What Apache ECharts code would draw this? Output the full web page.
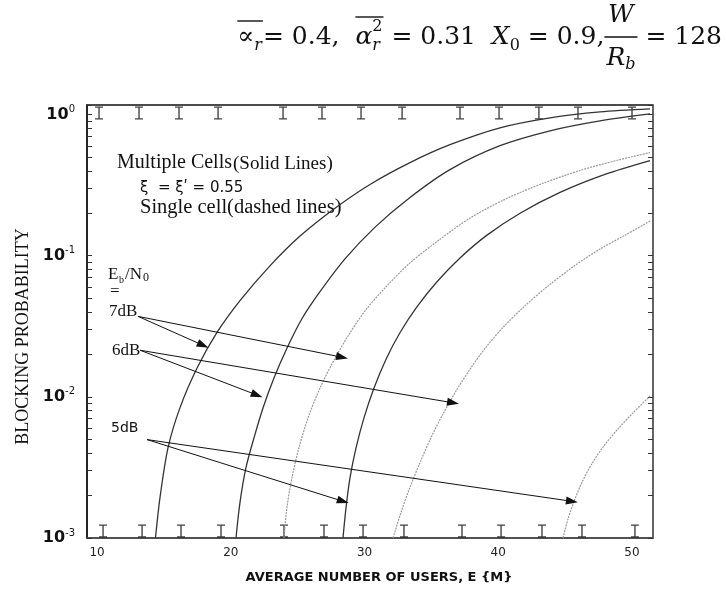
<!DOCTYPE html>
<html>
<head>
<meta charset="utf-8">
<script src="https://cdn.jsdelivr.net/npm/echarts@6/dist/echarts.min.js"></script>
<style>
html, body { margin: 0; padding: 0; background: #fff; }
#chart { width: 726px; height: 589px; }
</style>
</head>
<body>
<div id="chart"></div>
<script>
// values: E = average number of users, P = blocking probability
// multiple cells (solid)
const e7Multi = [14.37, 14.71, 15.31, 16.20, 17.48, 18.97, 20.69, 22.93, 25.18, 27.79, 30.41, 33.40, 36.39, 40.13, 43.87, 47.61, 51.35];
const p7Multi = [0.001, 0.00194, 0.00437, 0.00836, 0.0160, 0.0286, 0.0481, 0.0848, 0.1378, 0.217, 0.320, 0.457, 0.612, 0.806, 0.948, 1.045, 1.097];
const e6Multi = [20.39, 20.69, 21.14, 21.74, 22.41, 23.23, 24.20, 25.33, 26.67, 28.54, 30.79, 33.40, 36.39, 40.13, 43.87, 47.61, 51.35];
const p6Multi = [0.001, 0.00179, 0.00316, 0.00514, 0.00835, 0.0136, 0.0221, 0.0359, 0.0556, 0.0950, 0.1595, 0.259, 0.408, 0.602, 0.768, 0.903, 1.011];
const e5Multi = [28.39, 28.62, 28.92, 29.37, 29.96, 30.71, 31.61, 32.66, 33.93, 35.42, 37.14, 39.16, 41.63, 44.62, 47.98, 51.35];
const p5Multi = [0.001, 0.00165, 0.00269, 0.00437, 0.00710, 0.01155, 0.0185, 0.0286, 0.0436, 0.0654, 0.0965, 0.140, 0.200, 0.281, 0.377, 0.472];
// single cell (dashed)
const e7Single = [23.98, 24.20, 24.58, 25.10, 25.78, 26.67, 27.72, 28.84, 30.12, 31.61, 33.40, 35.65, 37.89, 40.50, 43.12, 46.11, 49.10, 51.35];
const p7Single = [0.001, 0.00165, 0.00269, 0.00437, 0.00710, 0.01155, 0.0182, 0.0277, 0.0416, 0.0603, 0.0890, 0.131, 0.185, 0.251, 0.320, 0.402, 0.480, 0.538];
const e6Single = [32.13, 32.73, 33.40, 34.15, 34.97, 35.87, 36.84, 37.89, 39.08, 40.43, 41.93, 43.65, 45.59, 47.61, 49.48, 51.35];
const p6Single = [0.001, 0.00152, 0.00229, 0.00343, 0.00514, 0.00758, 0.0110, 0.0157, 0.0225, 0.0316, 0.0436, 0.0603, 0.0834, 0.1116, 0.140, 0.176];
const e5Single = [44.84, 45.21, 45.67, 46.26, 47.01, 47.91, 48.96, 50.08, 51.35];
const p5Single = [0.001, 0.00136, 0.00182, 0.00248, 0.00337, 0.00451, 0.00594, 0.00770, 0.01015];

// the little "I" marks along the top and bottom edges
const topMarkE = [10.15, 13.14, 16.13, 19.05, 23.91, 26.82, 29.74, 32.81, 37.14, 40.06, 43.04, 45.96, 50.00];
const bottomMarkE = [10.45, 13.37, 16.28, 19.27, 23.98, 26.97, 29.89, 32.95, 37.29, 40.21, 43.27, 46.26, 50.22];

// Eb/N0 arrows (from label to curve)
const arrowStartE = [13.06, 13.06, 13.22, 13.22, 13.74, 13.74];
const arrowStartP = [0.0372, 0.0372, 0.0214, 0.0214, 0.00498, 0.00498];
const arrowEndE = [17.93, 28.32, 21.96, 36.62, 28.39, 45.51];
const arrowEndP = [0.0232, 0.0191, 0.0103, 0.00908, 0.00182, 0.00182];

const xTicks = [10, 20, 30, 40, 50];

const X_MIN = 9.25, X_MAX = 51.57;
const Y_MIN = 0.001, Y_MAX = 1.17;

function zip(xs, ys) {
    return xs.map((x, i) => [x, ys[i]])
}

function curve(name, xs, ys, dashed) {
    return {
        name: name,
        type: 'line',
        data: zip(xs, ys),
        smooth: 0.3,
        showSymbol: false,
        silent: true,
        lineStyle: dashed
            ? { color: '#9a9a9a', width: 1.2, type: [2, 1] }
            : { color: '#333', width: 1.3 }
    }
}

const serif = 'Liberation Serif';
const sans = 'DejaVu Sans';

function yLabel(v) {
    const exp = Math.round(Math.log10(v));
    if (Math.abs(Math.log10(v) - exp) > 1e-6) return '';
    return '{b|10}{s|' + exp + '}';
}

// formula above the chart, laid out piece by piece, right edge at 722
const ctx = document.createElement('canvas').getContext('2d');
function textWidth(t, font) {
    ctx.font = font;
    return ctx.measureText(t).width;
}
const mf = 'DejaVu Serif';
const big = '25px ' + mf, bigI = 'italic 25px ' + mf;
const small = '16px ' + mf, smallI = 'italic 16px ' + mf;
const MID = 37;
const formula = [];
let cx = 0;
function put(text, font, x, y) {
    formula.push({ type: 'text', silent: true, style: { x: x, y: y, text: text, font: font, fill: '#111', textVerticalAlign: 'middle', verticalAlign: 'middle' } });
    return textWidth(text, font);
}
function hline(x1, x2, y) {
    formula.push({ type: 'line', silent: true, shape: { x1: x1, y1: y, x2: x2, y2: y }, style: { stroke: '#111', lineWidth: 1.4 } });
}
let ox = cx;
cx += put('\u221D', big, cx, MID);
cx += put('r', smallI, cx, MID + 9) + 1;
hline(ox, cx, 21);
cx += put('= 0.4,', big, cx, MID);
cx += textWidth('  ', big);
ox = cx;
cx += put('\u03B1', bigI, cx, MID);
cx += Math.max(put('2', small, cx, MID - 10), put('r', smallI, cx, MID + 9)) + 1;
hline(ox, cx, 17);
cx += put(' = 0.31', big, cx, MID);
cx += textWidth('  ', big);
cx += put('X', bigI, cx, MID);
cx += put('0', small, cx, MID + 9);
cx += put(' = 0.9,', big, cx, MID);
const wW = textWidth('W', bigI), wR = textWidth('R', bigI) + textWidth('b', smallI);
const fw = Math.max(wW, wR) + 4;
put('W', bigI, cx + (fw - wW) / 2, MID - 22);
put('R', bigI, cx + (fw - wR) / 2, MID + 21);
put('b', smallI, cx + (fw - wR) / 2 + textWidth('R', bigI), MID + 28);
hline(cx, cx + fw, MID);
cx += fw;
cx += put(' = 128', big, cx, MID);
const shift = 722 - cx;
formula.forEach(el => {
    if (el.type === 'text') el.style.x += shift;
    else { el.shape.x1 += shift; el.shape.x2 += shift; }
});

const logAxis = {
    type: 'log',
    logBase: 10,
    min: Y_MIN,
    max: Y_MAX,
    splitLine: { show: false },
    axisLine: { show: true, lineStyle: { color: '#111', width: 1.5 } },
    axisTick: { show: true, inside: true, length: 5, lineStyle: { color: '#333' } },
    minorTick: { show: true, splitNumber: 9, length: 5, lineStyle: { color: '#333' } }
};

const chart = echarts.init(document.getElementById('chart'));
chart.setOption({
    backgroundColor: '#fff',
    animation: false,
    grid: { left: 87, right: 73, top: 105, bottom: 48, show: true, borderColor: '#111', borderWidth: 1.3 },
    xAxis: {
        type: 'value',
        min: X_MIN,
        max: X_MAX,
        name: 'AVERAGE NUMBER OF USERS, E {M}',
        nameLocation: 'middle',
        nameGap: 33,
        nameTextStyle: { fontFamily: sans, fontWeight: 'bold', fontSize: 13, color: '#111', padding: [0, 0, 0, 18] },
        splitLine: { show: false },
        axisLine: { lineStyle: { color: '#555', width: 1.5 } },
        axisTick: { show: false },
        axisLabel: { customValues: xTicks, color: '#222', fontFamily: sans, fontSize: 12, margin: 9 }
    },
    yAxis: [
        Object.assign({}, logAxis, {
            position: 'left',
            name: 'BLOCKING PROBABILITY',
            nameLocation: 'middle',
            nameGap: 53,
            nameTextStyle: { fontFamily: serif, fontSize: 18, color: '#111', padding: [0, 30, 0, 0] },
            axisLabel: {
                showMaxLabel: false,
                margin: 12,
                formatter: yLabel,
                rich: {
                    b: { fontFamily: sans, fontWeight: 'bold', fontSize: 16, color: '#111' },
                    s: { fontFamily: sans, fontSize: 10, color: '#111', padding: [0, 0, 10, 0] }
                }
            }
        }),
        Object.assign({}, logAxis, {
            position: 'right',
            axisLine: { show: true, lineStyle: { color: '#666', width: 1.5 } },
            axisLabel: { show: false }
        })
    ],
    series: [
        curve('7dB multiple', e7Multi, p7Multi, false),
        curve('6dB multiple', e6Multi, p6Multi, false),
        curve('5dB multiple', e5Multi, p5Multi, false),
        curve('7dB single', e7Single, p7Single, true),
        curve('6dB single', e6Single, p6Single, true),
        curve('5dB single', e5Single, p5Single, true),
        {
            type: 'scatter',
            silent: true,
            clip: false,
            symbol: 'path://M0,0H7V1.2H4.1V11.8H7V13H0V11.8H2.9V1.2H0Z',
            symbolSize: [8, 13],
            symbolOffset: [0, 8],
            itemStyle: { color: '#111' },
            data: topMarkE.map(e => [e, Y_MAX])
        },
        {
            type: 'scatter',
            silent: true,
            clip: false,
            symbol: 'path://M0,0H7V1.2H4.1V11.8H7V13H0V11.8H2.9V1.2H0Z',
            symbolSize: [8, 13],
            symbolOffset: [0, -7],
            itemStyle: { color: '#111' },
            data: bottomMarkE.map(e => [e, Y_MIN])
        },
        {
            type: 'line',
            data: [],
            markLine: {
                silent: true,
                animation: false,
                symbol: ['none', 'triangle'],
                symbolSize: [8, 12],
                label: { show: false },
                lineStyle: { color: '#111', width: 1, type: 'solid' },
                data: arrowStartE.map((e, i) => [
                    { coord: [e, arrowStartP[i]] },
                    { coord: [arrowEndE[i], arrowEndP[i]] }
                ])
            }
        }
    ],
    graphic: formula.concat([
        // annotations inside the plot
        { type: 'text', left: 117, top: 153, style: { text: 'Multiple Cells', font: '20px ' + serif, fill: '#111' } },
        { type: 'text', left: 233, top: 155, style: { text: '(Solid Lines)', font: '19px ' + serif, fill: '#111' } },
        { type: 'text', left: 140, top: 181, style: { text: '\u03BE  = \u03BE\u02B9 = 0.55', font: '15px ' + sans, fill: '#111' } },
        { type: 'text', left: 140, top: 197, style: { text: 'Single cell(dashed lines)', font: '20.5px ' + serif, fill: '#111' } },
        { type: 'text', left: 108, top: 266, style: { text: 'E', font: '17px ' + serif, fill: '#111' } },
        { type: 'text', left: 119, top: 275, style: { text: 'b', font: '10px ' + serif, fill: '#111' } },
        { type: 'text', left: 125, top: 266, style: { text: '/N', font: '17px ' + serif, fill: '#111' } },
        { type: 'text', left: 143, top: 272, style: { text: '0', font: '12px ' + serif, fill: '#111' } },
        { type: 'text', left: 110, top: 283, style: { text: '=', font: '17px ' + serif, fill: '#111' } },
        { type: 'text', left: 109, top: 303, style: { text: '7dB', font: '17px ' + serif, fill: '#111' } },
        { type: 'text', left: 112, top: 342, style: { text: '6dB', font: '17px ' + serif, fill: '#111' } },
        { type: 'text', left: 111, top: 421, style: { text: '5dB', font: '14px ' + sans, fill: '#111' } }
    ])
});
</script>
</body>
</html>
